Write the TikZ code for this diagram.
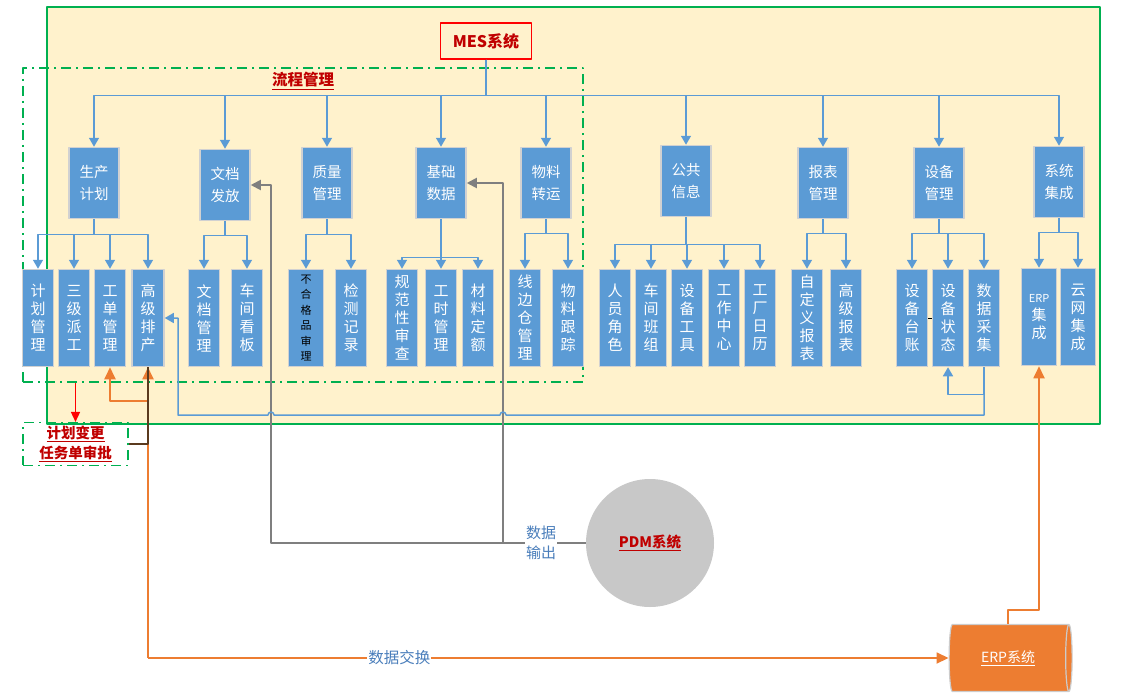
\documentclass[tikz,border=0pt]{standalone}
\usepackage{fontspec}
\setmainfont{Noto Sans CJK SC}
\usetikzlibrary{calc,arrows.meta,shapes.geometric}
\definecolor{boxblue}{HTML}{5B9BD5}
\definecolor{bgyellow}{HTML}{FFF2CC}
\definecolor{msgreen}{HTML}{00B050}
\definecolor{darkred}{HTML}{C00000}
\definecolor{erporange}{HTML}{ED7D31}
\definecolor{pdmgray}{HTML}{C8C8C8}
\definecolor{linegray}{HTML}{7F7F7F}
\definecolor{linkbrown}{HTML}{5A3A1E}
\definecolor{labelblue}{HTML}{4A7EBB}
\tikzset{
  pixel/.style={x=1pt,y=-1pt,>={Triangle[width=10pt,length=9pt]},line join=round},
  topbox/.style={rectangle,fill=boxblue,draw=black!18,line width=1.5pt,text=white,
    minimum width=50pt,minimum height=71pt,inner sep=0pt,align=center,
    font=\fontsize{14.5}{22}\selectfont},
  subbox/.style={topbox,minimum width=31pt,minimum height=97pt,font=\fontsize{15}{18}\selectfont},
  tree/.style={->,boxblue,line width=1.5pt},
  grayflow/.style={->,linegray,line width=1.8pt,>={Triangle[width=10pt,length=10pt]}},
  orangeflow/.style={->,erporange,line width=1.8pt,>={Triangle[width=11pt,length=12pt]}},
  flowbox/.style={draw=msgreen,line width=1.5pt,dash pattern=on 10pt off 5pt on 2pt off 5pt}
}

\begin{document}
\begin{tikzpicture}[pixel]
  \useasboundingbox (0,0) rectangle (1131,698);
  \draw[msgreen,line width=2pt,fill=bgyellow] (47,7) rectangle (1100,424);
  \node[flowbox,minimum width=560pt,minimum height=314pt] (lc) at (303,225) {};
  \node[font=\fontsize{15.5}{17}\selectfont\bfseries,text=darkred] (lcgl) at (303,81) {\underline{流程管理}};
  \node[flowbox,minimum width=105pt,minimum height=42pt,align=center,text=darkred,
    font=\fontsize{14.5}{20}\selectfont\bfseries] (spbox) at (75.5,444) {\underline{计划变更}\\\underline{任务单审批}};
  \node[draw=red,line width=1.5pt,fill=bgyellow,text=darkred,minimum width=91pt,minimum height=36pt,
    font=\fontsize{16}{18}\selectfont\bfseries] (mes) at (486,41) {MES系统};

  % first level
  \node[topbox] (scjh) at (94,183) {生产\\计划};
  \node[topbox] (wdff) at (225,185) {文档\\发放};
  \node[topbox] (zlgl) at (327,183) {质量\\管理};
  \node[topbox] (jcsj) at (441,183) {基础\\数据};
  \node[topbox] (wlzy) at (546,183) {物料\\转运};
  \node[topbox] (ggxx) at (686,181) {公共\\信息};
  \node[topbox] (bbgl) at (823,183) {报表\\管理};
  \node[topbox] (sbgl) at (939,183) {设备\\管理};
  \node[topbox] (xtjc) at (1059,182) {系统\\集成};

  % second level
  \node[subbox] (jhgl) at (38,318) {计\\划\\管\\理};
  \node[subbox] (sjpg) at (74,318) {三\\级\\派\\工};
  \node[subbox] (gdgl) at (110,318) {工\\单\\管\\理};
  \node[subbox,minimum width=32pt] (gjpc) at (148,318) {高\\级\\排\\产};
  \node[subbox] (wdgl) at (204,318) {文\\档\\管\\理};
  \node[subbox] (cjkb) at (247,318) {车\\间\\看\\板};
  \node[subbox,minimum width=35pt,text=black,font=\fontsize{11}{15.5}\selectfont] (bhgp) at (306,318) {不\\合\\格\\品\\审\\理};
  \node[subbox] (jcjl) at (351,318) {检\\测\\记\\录};
  \node[subbox] (gfsc) at (402,318) {规\\范\\性\\审\\查};
  \node[subbox] (gsgl) at (441,318) {工\\时\\管\\理};
  \node[subbox] (clde) at (478,318) {材\\料\\定\\额};
  \node[subbox] (xbcgl) at (525,318) {线\\边\\仓\\管\\理};
  \node[subbox] (wlgz) at (568,318) {物\\料\\跟\\踪};
  \node[subbox] (ryjs) at (615,318) {人\\员\\角\\色};
  \node[subbox] (cjbz) at (651,318) {车\\间\\班\\组};
  \node[subbox] (sbgj) at (687,318) {设\\备\\工\\具};
  \node[subbox] (gzzx) at (724,318) {工\\作\\中\\心};
  \node[subbox] (gcrl) at (760,318) {工\\厂\\日\\历};
  \node[subbox] (zdybb) at (807,318) {自\\定\\义\\报\\表};
  \node[subbox] (gjbb) at (846,318) {高\\级\\报\\表};
  \node[subbox] (sbtz) at (912,318) {设\\备\\台\\账};
  \node[subbox] (sbzt) at (948,318) {设\\备\\状\\态};
  \node[subbox] (sjcj) at (984,318) {数\\据\\采\\集};
  \node[subbox,minimum width=35pt] (erpjc) at (1039,317) {{\fontsize{11}{18}\selectfont ERP}\\集\\成};
  \node[subbox,minimum width=35pt] (ywjc) at (1078,317) {云\\网\\集\\成};

  % outside systems
  \node[circle,fill=pdmgray,minimum size=128pt,inner sep=0pt,text=darkred,
    font=\fontsize{14.5}{16}\selectfont\bfseries] (pdm) at (650,543) {\underline{PDM系统}};
  \node[cylinder,aspect=0.3,minimum width=67pt,minimum height=123pt,draw=black!20,line width=1.2pt,
    cylinder uses custom fill,cylinder body fill=erporange,cylinder end fill=erporange,
    text=white,font=\fontsize{14}{16}\selectfont] (erp) at (1008,658) {\underline{ERP系统}};

  % MES tree
  \draw[tree] (mes.south) -- ++(0,36) -| (scjh.north);
  \draw[tree] (mes.south) -- ++(0,36) -| (wdff.north);
  \draw[tree] (mes.south) -- ++(0,36) -| (zlgl.north);
  \draw[tree] (mes.south) -- ++(0,36) -| (jcsj.north);
  \draw[tree] (mes.south) -- ++(0,36) -| (wlzy.north);
  \draw[tree] (mes.south) -- ++(0,36) -| (ggxx.north);
  \draw[tree] (mes.south) -- ++(0,36) -| (bbgl.north);
  \draw[tree] (mes.south) -- ++(0,36) -| (sbgl.north);
  \draw[tree] (mes.south) -- ++(0,36) -| (xtjc.north);

  \draw[tree] (scjh.south) -- ++(0,15) -| (jhgl.north);
  \draw[tree] (scjh.south) -- ++(0,15) -| (sjpg.north);
  \draw[tree] (scjh.south) -- ++(0,15) -| (gdgl.north);
  \draw[tree] (scjh.south) -- ++(0,15) -| (gjpc.north);
  \draw[tree] (wdff.south) -- ++(0,14) -| (wdgl.north);
  \draw[tree] (wdff.south) -- ++(0,14) -| (cjkb.north);
  \draw[tree] (zlgl.south) -- ++(0,15) -| (bhgp.north);
  \draw[tree] (zlgl.south) -- ++(0,15) -| (jcjl.north);
  \draw[tree] (jcsj.south) -- ++(0,38) -| (gfsc.north);
  \draw[tree] (jcsj.south) -- ++(0,38) -| (gsgl.north);
  \draw[tree] (jcsj.south) -- ++(0,38) -| (clde.north);
  \draw[tree] (wlzy.south) -- ++(0,14) -| (xbcgl.north);
  \draw[tree] (wlzy.south) -- ++(0,14) -| (wlgz.north);
  \draw[tree] (ggxx.south) -- ++(0,27) -| (ryjs.north);
  \draw[tree] (ggxx.south) -- ++(0,27) -| (cjbz.north);
  \draw[tree] (ggxx.south) -- ++(0,27) -| (sbgj.north);
  \draw[tree] (ggxx.south) -- ++(0,27) -| (gzzx.north);
  \draw[tree] (ggxx.south) -- ++(0,27) -| (gcrl.north);
  \draw[tree] (bbgl.south) -- ++(0,14) -| (zdybb.north);
  \draw[tree] (bbgl.south) -- ++(0,14) -| (gjbb.north);
  \draw[tree] (sbgl.south) -- ++(0,14) -| (sbtz.north);
  \draw[tree] (sbgl.south) -- ++(0,14) -| (sbzt.north);
  \draw[tree] (sbgl.south) -- ++(0,14) -| (sjcj.north);
  \draw[tree] (xtjc.south) -- ++(0,14) -| (erpjc.north);
  \draw[tree] (xtjc.south) -- ++(0,14) -| (ywjc.north);
  \draw[black,line width=1pt] (sbtz.east) -- (sbzt.west);

  % PDM output
  \coordinate (gj) at (503,543);
  \coordinate (gw) at (271,543);
  \coordinate (fb) at (984,415);
  \draw[grayflow] (pdm.west) -- (gj) |- (jcsj.east);
  \draw[grayflow] (gj) -- (gw) |- (wdff.east);
  \node[fill=white,text=labelblue,align=center,inner sep=1pt,font=\fontsize{15}{20}\selectfont] (sjsc) at (541,543) {数据\\输出};

  % data feedback
  \draw[tree] (sjcj.south) -- ++(0,27) -| (sbzt.south);
  \draw[tree] (sjcj.south) -- (fb) -- ($(gj|-fb)+(3,0)$) arc[start angle=0,end angle=-180,radius=3]
    -- ($(gw|-fb)+(3,0)$) arc[start angle=0,end angle=-180,radius=3] -- (178,415) |- (gjpc.east);

  % ERP exchange
  \coordinate (oc) at (148,658);
  \coordinate (ob) at (148,401);
  \draw[orangeflow] (oc) -- (erp.west)
    node[pos=0.314,fill=white,text=labelblue,inner sep=1pt,font=\fontsize{15.5}{17}\selectfont] (sjjh) {数据交换};
  \draw[orangeflow] (oc) -- (gjpc.south);
  \draw[orangeflow] (ob) -| (gdgl.south);
  \draw[orangeflow] (erp.north) -- ++(0,-14) -| (erpjc.south);
  \draw[linkbrown,line width=1.5pt] (gjpc.south) |- (spbox.east);
  \draw[->,red,line width=1.5pt,>={Triangle[width=9pt,length=10pt]}] (spbox.north |- lc.south) -- (spbox.north);
\end{tikzpicture}
\end{document}
